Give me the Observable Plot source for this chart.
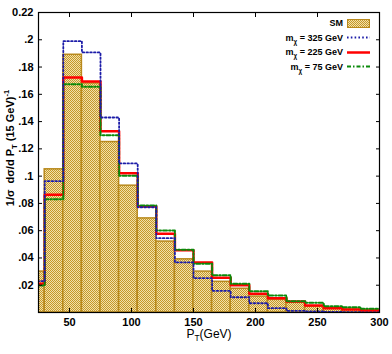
<!DOCTYPE html>
<html><head><meta charset="utf-8">
<script src="https://cdn.jsdelivr.net/npm/d3@7"></script>
<script src="https://cdn.jsdelivr.net/npm/@observablehq/plot@0.6"></script>
<style>
body{margin:0;background:#fff;}
#wrap{position:relative;width:392px;height:354px;font-family:"Liberation Sans",Arial,sans-serif;color:#000;}
#wrap svg.plot{position:absolute;left:0;top:0;}
.ylab{position:absolute;left:10px;top:148px;transform:translate(-50%,-50%) rotate(-90deg);white-space:nowrap;font-weight:bold;font-size:11px;}
.xlab{position:absolute;left:209px;top:327px;transform:translateX(-50%);white-space:nowrap;font-size:12px;}
sub,sup{font-size:70%;line-height:0;}
.legend{position:absolute;right:22px;top:16px;font-weight:bold;font-size:9px;}
.row{display:flex;align-items:center;justify-content:flex-end;height:14.5px;gap:4px;white-space:nowrap;}
.row svg{display:block;}
</style></head><body>
<svg width="0" height="0" style="position:absolute">
  <defs>
    <pattern id="smpat" width="2" height="2" patternUnits="userSpaceOnUse">
      <rect width="2" height="2" fill="#f1e1aa"/>
      <rect width="1" height="1" fill="#c6982a"/>
      <rect x="1" y="1" width="1" height="1" fill="#c6982a"/>
    </pattern>
  </defs>
</svg>
<div id="wrap"></div>
<script>
// bin lower edges (GeV), 15 GeV bins
const binLow = [15,30,45,60,75,90,105,120,135,150,165,180,195,210,225,240,255,270,285];
const binWidth = 15;
const smValues   = [0.030,0.105,0.189,0.168,0.125,0.093,0.069,0.052,0.039,0.030,0.0225,0.0174,0.0117,0.0093,0.0071,0.0042,0.0030,0.0022,0.0015];
const m325Values = [0.023,0.0963,0.199,0.1907,0.143,0.1093,0.0772,0.0545,0.0367,0.0252,0.0159,0.0112,0.0068,0.0032,0.0012,0.0008,0.0004,0.0002,0.0001];
const m225Values = [0.021,0.0863,0.1723,0.1694,0.133,0.1022,0.0777,0.0577,0.0457,0.0367,0.0254,0.0200,0.0137,0.0105,0.0081,0.0052,0.0032,0.0022,0.0015];
const m75Values  = [0.0198,0.0831,0.1674,0.1655,0.130,0.1002,0.0785,0.0601,0.0460,0.0357,0.0273,0.0210,0.0156,0.0125,0.0082,0.0071,0.0046,0.0039,0.0027];
const xTicks = [50,100,150,200,250,300];
const yTicks = [0.02,0.04,0.06,0.08,0.1,0.12,0.14,0.16,0.18,0.2,0.22];
const yTickLabels = [".02",".04",".06",".08",".1",".12",".14",".16",".18",".2","0.22"];
const legendLabels = ["SM","325 GeV","225 GeV","75 GeV"];

const bars = binLow.map((lo,i)=>({x1:lo,x2:lo+binWidth,y:smValues[i]}));
function steps(vals){
  const pts = binLow.map((lo,i)=>({x:lo,y:vals[i]}));
  pts.push({x:binLow[binLow.length-1]+binWidth,y:vals[vals.length-1]});
  return pts;
}
const colors = {m325:"#1c1ca8", m225:"#ff0000", m75:"#0a8a0a"};
const dash325 = "1.6,2.2";
const dash75 = "4,2,1.5,2";

const chart = Plot.plot({
  width:392,height:354,
  marginLeft:38,marginRight:13,marginTop:12,marginBottom:42,
  x:{domain:[25,300]},
  y:{domain:[0,0.22]},
  style:{fontFamily:"'Liberation Sans',Arial,sans-serif",fontSize:"11px",fontWeight:"bold",color:"#000",background:"transparent"},
  marks:[
    Plot.rectY(bars,{x1:"x1",x2:"x2",y:"y",fill:"url(#smpat)",stroke:"#b8891c",strokeWidth:1.5,clip:true}),
    Plot.line(steps(m225Values),{x:"x",y:"y",curve:"step-after",stroke:colors.m225,strokeWidth:2.5,clip:true}),
    Plot.line(steps(m75Values),{x:"x",y:"y",curve:"step-after",stroke:colors.m75,strokeWidth:2,strokeDasharray:dash75,clip:true}),
    Plot.line(steps(m325Values),{x:"x",y:"y",curve:"step-after",stroke:colors.m325,strokeWidth:1.8,strokeDasharray:dash325,clip:true}),
    Plot.frame({stroke:"#000",strokeWidth:1.2}),
    Plot.axisX({ticks:xTicks,tickSize:0,tickPadding:6,label:null}),
    Plot.axisX({ticks:xTicks,tickSize:4,dy:-4,text:null,label:null}),
    Plot.axisX({anchor:"top",ticks:xTicks,tickSize:4,dy:4,text:null,label:null}),
    Plot.axisY({ticks:yTicks,tickSize:0,tickPadding:5,tickFormat:d=>yTickLabels[yTicks.indexOf(d)],label:null}),
    Plot.axisY({ticks:yTicks,tickSize:4,dx:4,text:null,label:null}),
    Plot.axisY({anchor:"right",ticks:yTicks,tickSize:4,dx:-4,text:null,label:null})
  ]
});
chart.classList.add("plot");
const wrap = document.getElementById("wrap");
wrap.appendChild(chart);

const ylab = document.createElement("div");
ylab.className="ylab";
ylab.innerHTML = "1/σ&nbsp;&nbsp;dσ/d P<sub>T</sub> (15 GeV)<sup>-1</sup>";
wrap.appendChild(ylab);

const xlab = document.createElement("div");
xlab.className="xlab";
xlab.innerHTML = "P<sub>T</sub>(GeV)";
wrap.appendChild(xlab);

const legend = document.createElement("div");
legend.className="legend";
const sw = (inner)=>`<svg width="23" height="9">${inner}</svg>`;
legend.innerHTML = `
<div class="row"><span>${legendLabels[0]}</span>${sw('<rect x="0.5" y="0.5" width="22" height="8" fill="url(#smpat)" stroke="#b8891c"/>')}</div>
<div class="row"><span>m<sub>χ</sub> = ${legendLabels[1]}</span>${sw(`<line x1="0" x2="23" y1="4.5" y2="4.5" stroke="${colors.m325}" stroke-width="1.8" stroke-dasharray="${dash325}"/>`)}</div>
<div class="row"><span>m<sub>χ</sub> = ${legendLabels[2]}</span>${sw(`<line x1="0" x2="23" y1="4.5" y2="4.5" stroke="${colors.m225}" stroke-width="2.5"/>`)}</div>
<div class="row"><span>m<sub>χ</sub> = ${legendLabels[3]}</span>${sw(`<line x1="0" x2="23" y1="4.5" y2="4.5" stroke="${colors.m75}" stroke-width="2" stroke-dasharray="${dash75}"/>`)}</div>`;
wrap.appendChild(legend);
</script>
</body></html>
